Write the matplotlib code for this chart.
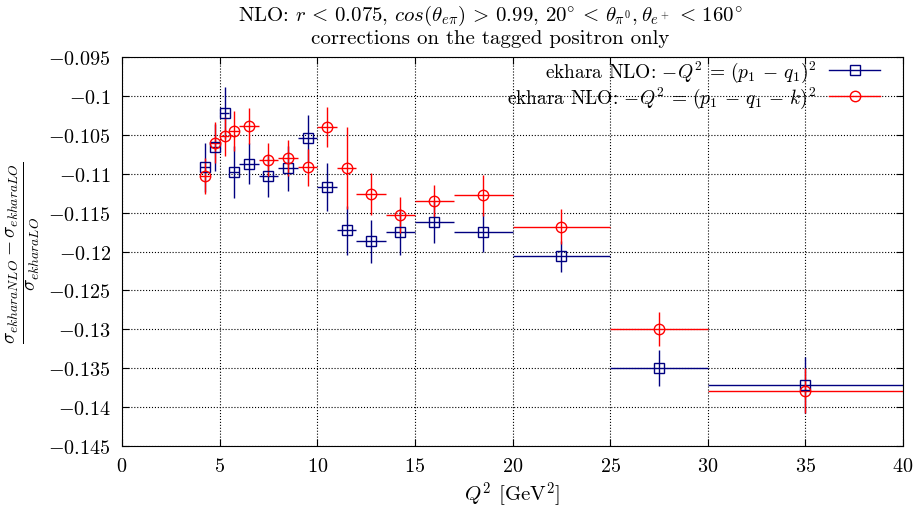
import matplotlib.pyplot as plt
from matplotlib.lines import Line2D
from matplotlib.ticker import FuncFormatter, MultipleLocator

plt.rcParams['font.family'] = 'serif'
plt.rcParams['font.serif'] = ['cmr10']
plt.rcParams['mathtext.fontset'] = 'cm'
plt.rcParams['axes.formatter.use_mathtext'] = True

# bin centres and edges in Q^2 [GeV^2]
q2 = [4.25, 4.75, 5.25, 5.75, 6.5, 7.5, 8.5, 9.5, 10.5, 11.5, 12.75, 14.25,
      16.0, 18.5, 22.5, 27.5, 35.0]
q2_lo = [4.0, 4.5, 5.0, 5.5, 6.0, 7.0, 8.0, 9.0, 10.0, 11.0, 12.0, 13.5,
         15.0, 17.0, 20.0, 25.0, 30.0]
q2_hi = [4.5, 5.0, 5.5, 6.0, 7.0, 8.0, 9.0, 10.0, 11.0, 12.0, 13.5, 15.0,
         17.0, 20.0, 25.0, 30.0, 40.0]

# -Q^2 = (p1 - q1)^2
nlo_a = [-0.1092, -0.1066, -0.1022, -0.1098, -0.1087, -0.1103, -0.1093, -0.1054,
         -0.1117, -0.1173, -0.1187, -0.1175, -0.1162, -0.1175, -0.1206, -0.1350,
         -0.1371]
nlo_a_err = [0.0031, 0.0030, 0.0033, 0.0033, 0.0026, 0.0027, 0.0029, 0.0030,
             0.0031, 0.0032, 0.0028, 0.0029, 0.0027, 0.0025, 0.0020, 0.0023,
             0.0036]

# -Q^2 = (p1 - q1 - k)^2
nlo_b = [-0.1103, -0.1060, -0.1052, -0.1045, -0.1039, -0.1082, -0.1080, -0.1092,
         -0.1040, -0.1093, -0.1126, -0.1153, -0.1135, -0.1128, -0.1168, -0.1300,
         -0.1379]
nlo_b_err = [0.0023, 0.0026, 0.0025, 0.0026, 0.0023, 0.0021, 0.0023, 0.0024,
             0.0026, 0.0053, 0.0027, 0.0023, 0.0021, 0.0026, 0.0023, 0.0022,
             0.0029]

xerr = [[c - lo for c, lo in zip(q2, q2_lo)], [hi - c for c, hi in zip(q2, q2_hi)]]

fig = plt.figure(figsize=(9.14, 5.10), dpi=100)
ax = fig.add_axes([0.1335, 0.1235, 0.8545, 0.7628])

blue = '#000080'
red = '#ff0000'
ax.errorbar(q2, nlo_a, yerr=nlo_a_err, xerr=xerr, fmt='s', color=blue,
            mfc='none', mec=blue, ms=7.5, mew=1, elinewidth=1, capsize=0)
ax.errorbar(q2, nlo_b, yerr=nlo_b_err, xerr=xerr, fmt='o', color=red,
            mfc='none', mec=red, ms=7.5, mew=1, elinewidth=1, capsize=0)

ax.set_xlim(0, 40)
ax.set_ylim(-0.145, -0.095)
ax.xaxis.set_major_locator(MultipleLocator(5))
ax.yaxis.set_major_locator(MultipleLocator(0.005))
ax.xaxis.set_major_formatter(FuncFormatter(lambda v, p: f'${v:g}$'))
ax.yaxis.set_major_formatter(FuncFormatter(lambda v, p: f'${round(v, 3):g}$'))
ax.tick_params(direction='in', top=True, right=True, labelsize=14.5, length=5, pad=8)
ax.grid(True, color='black', linestyle=':', linewidth=0.8)

ax.set_xlabel(r'$Q^2$ [GeV$^2$]', fontsize=15, labelpad=3)
ax.set_ylabel(r'$\frac{\sigma_{ekharaNLO}-\sigma_{ekharaLO}}{\sigma_{ekharaLO}}$',
              fontsize=20, labelpad=5)
ax.set_title(r'NLO: $r\,<\,0.075$, $cos(\theta_{e\pi})\,>\,0.99$, $20^{\circ}\,<\,\theta_{\pi^0},\theta_{e^+}\,<\,160^{\circ}$'
             '\ncorrections on the tagged positron only', fontsize=15, pad=10,
             linespacing=1.15, x=0.472)

handles = [Line2D([], [], color=blue, marker='s', mfc='none', ms=7.5, lw=1),
           Line2D([], [], color=red, marker='o', mfc='none', ms=7.5, lw=1)]
labels = [r'ekhara NLO: $-Q^2\,=\,(p_1\,-\,q_1)^2$',
          r'ekhara NLO: $-Q^2\,=\,(p_1\,-\,q_1\,-\,k)^2$']
ax.legend(handles, labels, loc='upper right', frameon=False, markerfirst=False,
          fontsize=14, handlelength=2.6, labelspacing=0.0, borderaxespad=0.0,
          borderpad=0.1, handletextpad=0.67, bbox_to_anchor=(0.973, 1.0))

fig.savefig('out.png', dpi=100)
